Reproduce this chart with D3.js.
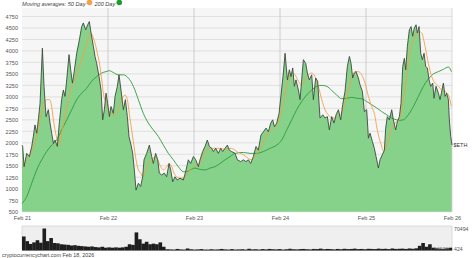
<!DOCTYPE html>
<html><head><meta charset="utf-8">
<script src="https://cdn.jsdelivr.net/npm/d3@7"></script>
<style>
html,body{margin:0;padding:0;background:#fff;}
svg{display:block;font-family:"Liberation Sans",Arial,sans-serif;}
</style></head>
<body><svg id="c" width="474" height="258"></svg>
<script>
// ---- data (decimal years, USD) ----
const priceT = [2021.13,2021.138,2021.154,2021.185,2021.216,2021.243,2021.262,2021.281,2021.301,2021.320,2021.340,2021.367,2021.386,2021.409,2021.436,2021.456,2021.475,2021.495,2021.514,2021.541,2021.564,2021.591,2021.611,2021.630,2021.650,2021.677,2021.696,2021.716,2021.735,2021.766,2021.797,2021.824,2021.843,2021.871,2021.894,2021.913,2021.933,2021.960,2021.979,2021.998,2022.026,2022.049,2022.068,2022.088,2022.107,2022.126,2022.146,2022.165,2022.192,2022.212,2022.239,2022.258,2022.281,2022.309,2022.332,2022.355,2022.374,2022.398,2022.417,2022.436,2022.456,2022.483,2022.510,2022.533,2022.549,2022.580,2022.611,2022.638,2022.657,2022.684,2022.708,2022.727,2022.754,2022.785,2022.812,2022.840,2022.859,2022.882,2022.909,2022.936,2022.967,2023.006,2023.033,2023.064,2023.091,2023.123,2023.150,2023.181,2023.200,2023.231,2023.258,2023.285,2023.309,2023.336,2023.355,2023.382,2023.413,2023.440,2023.464,2023.491,2023.518,2023.541,2023.568,2023.607,2023.634,2023.673,2023.704,2023.735,2023.762,2023.789,2023.820,2023.851,2023.878,2023.909,2023.937,2023.968,2023.995,2024.022,2024.045,2024.065,2024.092,2024.119,2024.142,2024.169,2024.189,2024.216,2024.239,2024.258,2024.278,2024.297,2024.316,2024.344,2024.363,2024.382,2024.402,2024.429,2024.448,2024.471,2024.499,2024.518,2024.545,2024.568,2024.595,2024.627,2024.654,2024.681,2024.704,2024.731,2024.758,2024.782,2024.809,2024.836,2024.859,2024.886,2024.913,2024.937,2024.956,2024.975,2024.995,2025.014,2025.041,2025.061,2025.088,2025.111,2025.138,2025.158,2025.177,2025.204,2025.227,2025.247,2025.274,2025.293,2025.320,2025.344,2025.359,2025.378,2025.402,2025.429,2025.448,2025.475,2025.495,2025.518,2025.537,2025.557,2025.576,2025.592,2025.611,2025.634,2025.654,2025.673,2025.692,2025.712,2025.727,2025.747,2025.766,2025.785,2025.805,2025.824,2025.844,2025.863,2025.882,2025.906,2025.921,2025.944,2025.972,2025.991,2026.014,2026.030,2026.049,2026.068,2026.088,2026.099,2026.115,2026.13];
const priceV = [1950,1920,1480,1770,1700,1920,2140,2390,2210,2500,2860,4060,3230,2570,2720,2430,2210,1990,2060,1920,2430,2940,3150,3010,3370,3920,3590,3300,3520,3950,4240,4530,4610,4460,4570,4640,4390,4100,3880,3730,3440,3150,2500,2720,3080,2860,2570,2790,2640,3010,3230,3480,3150,2720,2940,2570,2140,1950,1770,1410,970,1120,1050,1260,1630,1770,1950,1700,1550,1770,1630,1340,1300,1340,1260,1550,1410,1150,1260,1190,1230,1190,1370,1630,1550,1700,1630,1480,1630,1810,1920,2060,1920,1880,1810,1880,1770,1880,1810,1880,1950,1840,1810,1770,1630,1590,1630,1590,1630,1550,1700,1920,1840,2170,2240,2320,2240,2430,2500,2350,2430,2640,3040,3520,3950,3370,3590,3440,3630,3230,3370,3150,2940,3370,3810,3730,3520,3370,3480,2940,3410,3340,2540,2610,2540,2570,2280,2570,2430,2610,2720,2500,2830,3120,3660,3880,3730,3410,3520,3550,3410,3260,3120,2680,2720,2100,2210,2030,1880,1700,1450,1630,1740,1840,2320,2570,2500,2720,2500,2280,2460,2570,2860,3660,3840,3590,4100,4460,4530,4320,4500,4570,4390,4530,3950,3810,3950,3660,3630,3370,3230,3300,2970,3230,3080,2940,3150,3300,3010,3080,2940,2500,2140,1950];

const ma50T = [2021.13,2021.185,2021.243,2021.301,2021.340,2021.378,2021.417,2021.448,2021.475,2021.495,2021.514,2021.541,2021.564,2021.591,2021.630,2021.669,2021.708,2021.747,2021.785,2021.824,2021.863,2021.902,2021.929,2021.952,2021.979,2022.006,2022.037,2022.057,2022.076,2022.107,2022.134,2022.173,2022.212,2022.250,2022.289,2022.328,2022.355,2022.378,2022.405,2022.433,2022.456,2022.483,2022.510,2022.533,2022.560,2022.599,2022.638,2022.677,2022.708,2022.743,2022.774,2022.812,2022.843,2022.871,2022.898,2022.929,2022.967,2023.006,2023.045,2023.084,2023.123,2023.161,2023.200,2023.239,2023.278,2023.316,2023.374,2023.433,2023.491,2023.549,2023.607,2023.627,2023.704,2023.762,2023.801,2023.840,2023.878,2023.917,2023.956,2023.995,2024.033,2024.072,2024.111,2024.150,2024.189,2024.227,2024.266,2024.305,2024.344,2024.382,2024.421,2024.460,2024.499,2024.537,2024.576,2024.615,2024.654,2024.692,2024.731,2024.770,2024.809,2024.847,2024.886,2024.925,2024.964,2025.002,2025.041,2025.080,2025.119,2025.158,2025.196,2025.235,2025.254,2025.301,2025.340,2025.378,2025.417,2025.467,2025.518,2025.557,2025.595,2025.634,2025.673,2025.712,2025.750,2025.778,2025.817,2025.855,2025.894,2025.933,2025.972,2026.010,2026.049,2026.088,2026.123];
const ma50V = [1450,1630,1810,2140,2500,2790,2940,2940,2790,2500,2280,2060,1950,2210,2570,2940,3230,3370,3590,3810,4020,4280,4390,4320,4170,3950,3660,3370,3080,2860,2720,2610,2610,2720,2940,3040,2940,2640,2280,1920,1630,1410,1340,1260,1340,1550,1630,1700,1630,1480,1410,1480,1550,1480,1340,1260,1230,1230,1300,1410,1480,1520,1550,1700,1840,1880,1880,1880,1860,1880,1840,1810,1740,1660,1630,1700,1810,1950,2100,2210,2280,2350,2460,2720,3080,3370,3520,3480,3340,3260,3370,3480,3520,3440,3230,2940,2720,2610,2540,2540,2570,2640,2860,3150,3410,3550,3550,3480,3300,3010,2790,2570,2350,1990,1810,1990,2240,2430,2500,2860,3300,3880,4170,4350,4420,4390,4100,3730,3440,3300,3230,3150,3120,3040,2790];

const ma200T = [2021.13,2021.185,2021.243,2021.301,2021.359,2021.417,2021.475,2021.533,2021.591,2021.650,2021.708,2021.766,2021.824,2021.882,2021.940,2021.998,2022.057,2022.107,2022.146,2022.192,2022.250,2022.309,2022.367,2022.425,2022.483,2022.541,2022.599,2022.657,2022.715,2022.774,2022.832,2022.890,2022.948,2023.006,2023.045,2023.084,2023.142,2023.200,2023.258,2023.316,2023.374,2023.433,2023.491,2023.549,2023.607,2023.704,2023.782,2023.859,2023.937,2024.014,2024.092,2024.150,2024.208,2024.266,2024.324,2024.382,2024.440,2024.499,2024.557,2024.615,2024.673,2024.731,2024.789,2024.847,2024.906,2024.964,2025.022,2025.080,2025.138,2025.196,2025.254,2025.312,2025.371,2025.429,2025.487,2025.526,2025.564,2025.622,2025.681,2025.739,2025.797,2025.855,2025.913,2025.972,2026.030,2026.088,2026.123];
const ma200V = [680,830,1120,1410,1630,1810,1950,2060,2280,2500,2720,2940,3080,3190,3340,3440,3520,3550,3570,3530,3480,3480,3410,3230,2940,2640,2430,2280,2140,1950,1770,1630,1480,1370,1370,1410,1450,1420,1410,1450,1480,1550,1630,1700,1770,1790,1770,1770,1810,1880,1950,2060,2280,2500,2720,2900,3040,3150,3230,3250,3230,3140,3040,2960,2970,2990,2970,2960,2900,2830,2760,2680,2610,2540,2500,2490,2500,2610,2790,3010,3230,3390,3500,3550,3600,3650,3550];

// volume, one bar per ~2 weeks from Feb 21 to Feb 26
const volumes = [45000,30000,21000,26000,33000,25000,70494,30000,40000,24000,23000,20000,19000,18000,16000,17000,15000,14000,13000,12000,13000,11000,10000,12000,9000,10000,9000,10000,9000,10000,12000,20000,18000,58000,36000,22000,28000,20000,22000,20000,26000,12000,
 4000,3500,3000,5000,3500,3000,6500,4000,3000,3500,4500,3000,3000,4000,3000,3500,5000,3500,3000,4500,3000,3500,4000,3000,5500,3500,4000,3000,4500,3500,5000,4000,3500,4500,3000,4000,5500,4000,3500,4500,5000,4000,3500,5000,4500,6000,4000,5000,4500,3500,5000,4000,5500,4500,5000,6000,4500,5000,4000,5500,5000,4500,6000,5000,5500,4500,6500,5000,5500,6000,5000,6500,5500,7000,
 15000,24000,12000,20000,9000,7000,6000,5000,7000,9000];

const yTicks = [500,750,1000,1250,1500,1750,2000,2250,2500,2750,3000,3250,3500,3750,4000,4250,4500,4750];
const xTickT = [2021.13,2022.13,2023.13,2024.13,2025.13,2026.13];
const xTickLabels = ["Feb 21","Feb 22","Feb 23","Feb 24","Feb 25","Feb 26"];
const volLabels = ["70494","424"];

// ---- drawing ----
const svg = d3.select("#c");
const FONT = "Liberation Sans, Arial, sans-serif";
const L = 22, R = 452, T = 8, B = 211.7;
const x = d3.scaleLinear().domain([2021.13, 2026.13]).range([L, R]);
const y = d3.scaleLinear().domain([500, 4750]).range([B, 16.5]);

svg.append("rect").attr("x", L).attr("y", T).attr("width", R - L).attr("height", B - T).attr("fill", "#f6f6f6");

// horizontal grid
svg.append("g").selectAll("line").data(yTicks).join("line")
  .attr("x1", L).attr("x2", R).attr("y1", d => y(d)).attr("y2", d => y(d))
  .attr("stroke", "#dadada").attr("stroke-width", 0.8);
// vertical grid
svg.append("g").selectAll("line").data(xTickT.slice(1, -1)).join("line")
  .attr("x1", d => x(d)).attr("x2", d => x(d)).attr("y1", T).attr("y2", B)
  .attr("stroke", "#c4c4c4").attr("stroke-width", 0.8);

const price = priceT.map((t, i) => [t, priceV[i]]);
svg.append("path").datum(price)
  .attr("d", d3.area().x(d => x(d[0])).y0(B).y1(d => y(d[1])))
  .attr("fill", "#86d28a");
svg.append("line").attr("x1", R).attr("x2", R).attr("y1", T).attr("y2", B).attr("stroke", "#d0d0d0").attr("stroke-width", 0.8);

const line = d3.line().x(d => x(d[0])).y(d => y(d[1])).curve(d3.curveMonotoneX);
svg.append("path").datum(ma200T.map((t, i) => [t, ma200V[i]]))
  .attr("d", line).attr("fill", "none").attr("stroke", "#2e9a3c").attr("stroke-width", 0.9);
svg.append("path").datum(ma50T.map((t, i) => [t, ma50V[i]]))
  .attr("d", line).attr("fill", "none").attr("stroke", "#f0a04a").attr("stroke-width", 0.9);
svg.append("path").datum(price)
  .attr("d", d3.line().x(d => x(d[0])).y(d => y(d[1])))
  .attr("fill", "none").attr("stroke", "#3d4a3f").attr("stroke-width", 0.9);

// y axis labels
const yAxis = d3.axisLeft(y).tickValues(yTicks).tickFormat(d3.format("d")).tickSize(0).tickPadding(4);
const gy = svg.append("g").attr("transform", `translate(${L},0)`).call(yAxis);
gy.select(".domain").remove();
gy.selectAll("text").attr("font-size", 5.6).attr("fill", "#555").attr("font-family", FONT);

// x axis labels
const xAxis = d3.axisBottom(x).tickValues(xTickT).tickFormat((d, i) => xTickLabels[i]).tickSize(0).tickPadding(4);
const gx = svg.append("g").attr("transform", `translate(0,${B})`).call(xAxis);
gx.select(".domain").remove();
gx.selectAll("text").attr("font-size", 5.6).attr("fill", "#555").attr("font-family", FONT);

// legend title
const tg = svg.append("g").attr("font-size", 5.6).attr("font-style", "italic").attr("fill", "#444");
const t1 = tg.append("text").attr("x", 22).attr("y", 6).text("Moving averages: 50 Day");
const w1 = t1.node().getComputedTextLength();
tg.append("circle").attr("cx", 22 + w1 + 4).attr("cy", 2.5).attr("r", 2.8).attr("fill", "#f5a04a");
const t2 = tg.append("text").attr("x", 22 + w1 + 9).attr("y", 6).text("200 Day");
const w2 = t2.node().getComputedTextLength();
tg.append("circle").attr("cx", 22 + w1 + 9 + w2 + 4).attr("cy", 2.5).attr("r", 2.8).attr("fill", "#1f9a2f");

// $ETH label
svg.append("text").attr("x", R + 1.5).attr("y", y(priceV[priceV.length - 1]) + 2).attr("font-size", 5.4).attr("fill", "#333").text("$ETH");

// volume panel
const VT = 226, VB = 250.5;
svg.append("rect").attr("x", L).attr("y", VT).attr("width", R - L).attr("height", VB - VT).attr("fill", "#efefef").attr("stroke", "#cfcfcf").attr("stroke-width", 0.7);
const xb = d3.scaleBand().domain(d3.range(volumes.length)).range([L, R]).padding(0);
const yv = d3.scaleLinear().domain([0, 70494]).range([VB, VT + 2.5]);
svg.append("g").selectAll("rect").data(volumes).join("rect")
  .attr("x", (d, i) => xb(i)).attr("width", xb.bandwidth() + 0.2)
  .attr("y", d => yv(d)).attr("height", d => VB - yv(d)).attr("fill", "#1e1e1e");
svg.append("text").attr("x", R + 2).attr("y", VT + 4.5).attr("font-size", 5.2).attr("fill", "#555").text(volLabels[0]);
svg.append("text").attr("x", R + 2).attr("y", VB + 0.5).attr("font-size", 5.2).attr("fill", "#555").text(volLabels[1]);
svg.append("text").attr("x", R - 18).attr("y", VB + 0.5).attr("font-size", 5.2).attr("fill", "#666").attr("opacity", 0.8).text("60986");

// footer
svg.append("text").attr("x", 2).attr("y", 256.5).attr("font-size", 5.4).attr("fill", "#444").text("cryptocurrencychart.com  Feb 18, 2026");
</script></body></html>
